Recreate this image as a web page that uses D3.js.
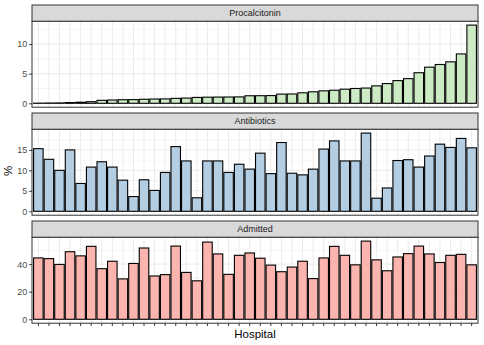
<!DOCTYPE html>
<html><head><meta charset="utf-8">
<script src="https://cdn.jsdelivr.net/npm/d3@7"></script>
<style>body{margin:0;background:#fff;}svg{display:block;}</style>
</head><body><svg id="c" width="484" height="345"></svg>
<script>
// Data
const hospitals = d3.range(1, 43).map(i => "H" + i);
const facets = ["Procalcitonin", "Antibiotics", "Admitted"];
const procalcitonin = [0.02,0.04,0.06,0.12,0.18,0.27,0.5,0.55,0.6,0.62,0.68,0.72,0.74,0.83,0.88,0.99,1.03,1.05,1.06,1.08,1.27,1.28,1.3,1.55,1.57,1.77,1.94,2.1,2.2,2.38,2.5,2.57,2.94,3.33,3.83,4.16,5.16,6.1,6.55,7.0,8.33,13.2];
const antibiotics = [15.3,12.7,10.0,15.0,6.8,10.8,12.1,10.8,7.6,3.6,7.7,5.1,9.5,15.8,12.3,3.3,12.3,12.3,9.5,11.5,10.3,14.2,9.2,16.8,9.3,8.9,10.3,15.2,17.2,12.3,12.3,19.1,3.2,5.7,12.4,12.6,10.8,13.5,16.4,15.6,17.8,15.5];
const admitted = [44.5,44.0,39.8,49.0,46.0,52.9,36.7,42.1,29.3,40.5,51.7,31.4,32.4,53.1,34.0,27.9,56.0,47.4,32.6,46.4,48.1,44.3,39.3,34.5,37.9,42.1,29.5,44.5,52.9,46.4,39.5,56.7,43.1,35.2,45.2,47.6,53.1,47.4,41.2,46.4,47.1,39.5];
const seriesValues = [procalcitonin, antibiotics, admitted];
const fills = ["#CCEBC5", "#B3CDE3", "#FBB4AE"];
const yTicks = [[0,5,10],[0,5,10,15],[0,20,40]];
const yMinor = [[2.5,7.5,12.5],[2.5,7.5,12.5,17.5],[10,30,50]];

const svg = d3.select("#c");
const left = 32, right = 478, top0 = 5, stripH = 16.2, panelH = 86, gap = 5.8;
const font = "'Liberation Sans', Arial, sans-serif";

const x = d3.scaleBand().domain(hospitals).range([left, right]).paddingInner(0.1).paddingOuter(0.15);

facets.forEach((name, k) => {
  const sTop = top0 + k * (stripH + panelH + gap);
  const pTop = sTop + stripH, pBot = pTop + panelH;
  const vals = seriesValues[k];
  const mx = d3.max(vals);
  const y = d3.scaleLinear().domain([-0.05 * mx, mx * 1.05]).range([pBot, pTop]);
  const g = svg.append("g");
  // panel background
  g.append("rect").attr("x", left).attr("y", pTop).attr("width", right - left).attr("height", panelH).attr("fill", "#fff");
  // minor grid
  g.selectAll(".mn").data(yMinor[k].filter(v => y(v) > pTop)).enter().append("line")
    .attr("x1", left).attr("x2", right).attr("y1", d => y(d)).attr("y2", d => y(d))
    .attr("stroke", "#EBEBEB").attr("stroke-width", 0.5);
  // major grid
  g.selectAll(".mj").data(yTicks[k]).enter().append("line")
    .attr("x1", left).attr("x2", right).attr("y1", d => y(d)).attr("y2", d => y(d))
    .attr("stroke", "#EBEBEB").attr("stroke-width", 1);
  g.selectAll(".vx").data(hospitals).enter().append("line")
    .attr("x1", d => x(d) + x.bandwidth() / 2).attr("x2", d => x(d) + x.bandwidth() / 2)
    .attr("y1", pTop).attr("y2", pBot)
    .attr("stroke", "#EBEBEB").attr("stroke-width", 1);
  // bars
  g.selectAll(".bar").data(vals).enter().append("rect")
    .attr("x", (d, i) => x(hospitals[i]))
    .attr("y", d => y(d))
    .attr("width", x.bandwidth())
    .attr("height", d => y(0) - y(d))
    .attr("fill", fills[k]).attr("stroke", "#000").attr("stroke-width", 1.1);
  // panel border
  g.append("rect").attr("x", left).attr("y", pTop).attr("width", right - left).attr("height", panelH)
    .attr("fill", "none").attr("stroke", "#333").attr("stroke-width", 1);
  // strip
  g.append("rect").attr("x", left).attr("y", sTop).attr("width", right - left).attr("height", stripH)
    .attr("fill", "#D9D9D9").attr("stroke", "#333").attr("stroke-width", 1);
  g.append("text").attr("x", (left + right) / 2).attr("y", sTop + stripH / 2 + 3.2)
    .attr("text-anchor", "middle").attr("font-family", font).attr("font-size", 9)
    .attr("fill", "#1A1A1A").text(name);
  // y axis
  const ax = d3.axisLeft(y).tickValues(yTicks[k]).tickSize(2.8).tickPadding(2);
  const ag = svg.append("g").attr("transform", `translate(${left},0)`).call(ax);
  ag.select(".domain").remove();
  ag.selectAll(".tick line").attr("stroke", "#333");
  ag.selectAll(".tick text").attr("font-family", font).attr("font-size", 9).attr("fill", "#4D4D4D");
  if (k === 2) {
    const xa = d3.axisBottom(x).tickSize(2.8).tickFormat("");
    const xg = svg.append("g").attr("transform", `translate(0,${pBot})`).call(xa);
    xg.select(".domain").remove();
    xg.selectAll(".tick line").attr("stroke", "#333");
  }
});

svg.append("text").attr("x", (left + right) / 2).attr("y", 337.5).attr("text-anchor", "middle")
  .attr("font-family", font).attr("font-size", 11.5).attr("fill", "#000").text("Hospital");
svg.append("text").attr("transform", "translate(12,171) rotate(-90)").attr("text-anchor", "middle")
  .attr("font-family", font).attr("font-size", 11.5).attr("fill", "#000").text("%");
</script></body></html>
